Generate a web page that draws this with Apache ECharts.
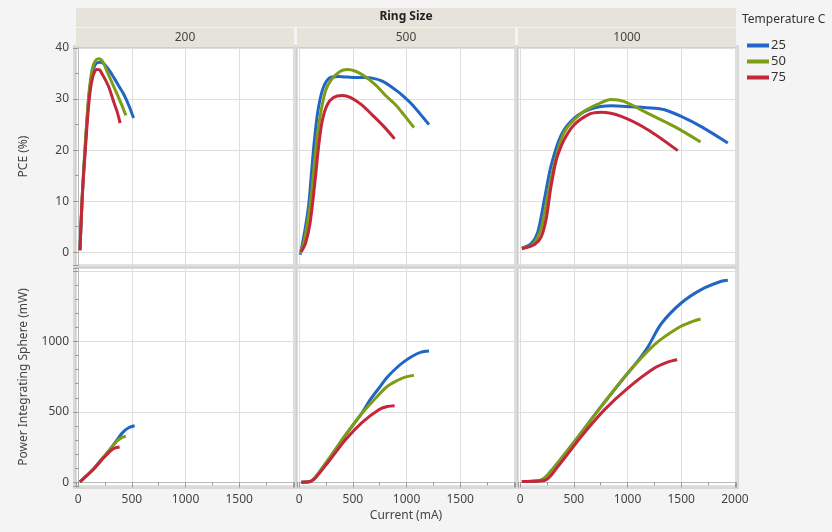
<!DOCTYPE html>
<html style="height: 100%">
<head>
<meta charset="utf-8">
<script src="https://cdn.jsdelivr.net/npm/echarts@6/dist/echarts.min.js"></script>
</head>
<body style="height: 100%; margin: 0; background: #f4f4f4">
<div id="container" style="width: 832px; height: 532px"></div>
<script type="text/javascript">
// facets and groups
var ringSizes = ['200', '500', '1000'];
var temps = ['25', '50', '75'];
var colors = ['#2166c6', '#7d9d17', '#c4263a'];

// PCE (%) vs current (mA), one array per ring size / temperature
var pce200T25 = [[17,0.4],[40,11.5],[70,22],[100,30.5],[130,35],[160,36.8],[200,37.2],[240,36.9],[290,35.6],[335,34.1],[380,32.5],[428,30.8],[475,28.6],[516,26.3]];
var pce200T50 = [[17,0.4],[40,11.8],[70,22.5],[100,31],[130,35.8],[160,37.5],[192,37.9],[230,37.3],[273,35.2],[320,33],[366,30.8],[405,28.9],[444,26.8]];
var pce200T75 = [[17,0.4],[39,11.2],[70,21],[101,29.5],[133,34.1],[173,35.8],[200,35.7],[226,34.8],[260,33.5],[288,32.2],[335,29.2],[365,27.4],[391,25.3]];

var pce500T25 = [[10,-0.5],[57,4.7],[90,9.5],[116,15.8],[140,21.5],[170,27],[213,31.5],[275,34],[368,34.4],[450,34.3],[524,34.2],[600,34.2],[680,34.1],[774,33.5],[898,31.8],[980,30.4],[1054,28.9],[1130,27],[1209,25]];
var pce500T50 = [[10,-0.3],[50,2.5],[90,7.5],[115,11.5],[135,15.8],[160,21],[190,26],[244,31.5],[300,33.8],[380,35.4],[447,35.8],[520,35.5],[600,34.6],[711,32.8],[800,30.8],[898,28.9],[980,26.8],[1069,24.4]];
var pce500T75 = [[20,0.1],[60,1.8],[100,5.5],[130,10.5],[157,15.8],[180,20.5],[213,25.5],[260,28.8],[320,30.3],[400,30.7],[480,30.3],[580,28.9],[680,26.9],[790,24.6],[889,22.2]];

var pce1000T25 = [[16,0.8],[103,1.7],[165,4],[227,10.5],[290,17.1],[383,23],[507,26.3],[662,28.1],[848,28.7],[1034,28.5],[1251,28.2],[1345,27.9],[1500,26.6],[1686,24.6],[1934,21.4]];
var pce1000T50 = [[16,0.8],[118,1.5],[196,4.7],[258,11.2],[320,17.4],[413,23.6],[569,27.2],[723,29],[848,29.9],[972,29.5],[1189,27.2],[1438,24.6],[1680,21.6]];
var pce1000T75 = [[16,0.7],[134,1.5],[196,3],[243,6.6],[290,13.2],[351,19.1],[476,24.3],[630,26.9],[755,27.4],[941,26.6],[1189,24],[1468,19.9]];

// Power Integrating Sphere (mW) vs current (mA)
var pow200T25 = [[17,5],[136,90],[229,173],[300,238],[360,300],[416,355],[470,388],[526,402]];
var pow200T50 = [[17,5],[136,90],[229,173],[293,230],[340,275],[371,300],[410,320],[444,328]];
var pow200T75 = [[17,5],[136,88],[229,168],[270,200],[307,228],[345,245],[386,252]];

var pow500T25 = [[20,2],[104,7],[150,35],[275,165],[431,335],[587,495],[660,585],[742,668],[820,745],[898,806],[980,858],[1054,895],[1130,922],[1209,931]];
var pow500T50 = [[20,2],[104,7],[150,35],[275,165],[431,335],[587,492],[742,622],[820,680],[898,716],[980,745],[1069,759]];
var pow500T75 = [[20,2],[104,7],[150,31],[275,149],[431,303],[587,426],[742,516],[820,538],[889,544]];

var pow1000T25 = [[16,7],[181,14],[258,55],[507,291],[755,539],[1003,776],[1100,865],[1189,960],[1314,1125],[1500,1272],[1686,1367],[1873,1426],[1934,1433]];
var pow1000T50 = [[16,7],[181,14],[258,55],[507,291],[755,539],[1003,776],[1251,977],[1469,1095],[1600,1140],[1680,1159]];
var pow1000T75 = [[16,7],[227,14],[351,113],[569,326],[786,516],[1003,669],[1251,811],[1380,855],[1462,870]];

var pceData = [[pce200T25, pce200T50, pce200T75], [pce500T25, pce500T50, pce500T75], [pce1000T25, pce1000T50, pce1000T75]];
var powData = [[pow200T25, pow200T50, pow200T75], [pow500T25, pow500T50, pow500T75], [pow1000T25, pow1000T50, pow1000T75]];

var dom = document.getElementById('container');
var myChart = echarts.init(dom);

var colLeft = [76, 297, 518];
var colWidth = 218;
var rowTop = [48, 268];
var rowHeight = [217, 218];
var font = "'Noto Sans', sans-serif";

var grids = [], xAxes = [], yAxes = [], series = [];
for (var r = 0; r < 2; r++) {
    for (var c = 0; c < 3; c++) {
        var idx = r * 3 + c;
        grids.push({
            left: colLeft[c], top: rowTop[r], width: colWidth, height: rowHeight[r],
            show: true, backgroundColor: '#fff', borderColor: '#c4c4c4', borderWidth: 1
        });
        xAxes.push({
            gridIndex: idx, type: 'value', min: -20, max: 2010, splitNumber: 4,
            axisLine: { show: r === 1, lineStyle: { color: '#b8b8b8' } },
            axisTick: { show: r === 1, length: 5, lineStyle: { color: '#999' } },
            minorTick: { show: r === 1, splitNumber: 2, length: 3, lineStyle: { color: '#999' } },
            axisLabel: {
                show: r === 1, showMinLabel: false, showMaxLabel: false,
                color: '#444', fontSize: 12, fontFamily: font, margin: 8,
                formatter: (function (cc) {
                    return function (v) { return (v === 2000 && cc < 2) ? '' : String(v); };
                })(c)
            },
            splitLine: { show: true, lineStyle: { color: '#dedede' } },
            name: (r === 1 && c === 1) ? 'Current (mA)' : '',
            nameLocation: 'middle', nameGap: 24,
            nameTextStyle: { color: '#444', fontSize: 12, fontFamily: font }
        });
        yAxes.push({
            gridIndex: idx, type: 'value',
            min: r === 0 ? -2.5 : -25, max: r === 0 ? 40 : 1520,
            splitNumber: r === 0 ? 4 : 3,
            axisLine: { show: c === 0, lineStyle: { color: '#b8b8b8' } },
            axisTick: { show: c === 0, length: 5, lineStyle: { color: '#999' } },
            minorTick: { show: c === 0, splitNumber: r === 0 ? 2 : 5, length: 3, lineStyle: { color: '#999' } },
            axisLabel: {
                show: c === 0, showMinLabel: false, showMaxLabel: r === 0,
                color: '#444', fontSize: 12, fontFamily: font, margin: 7,
                formatter: function (v) { return v === 1500 ? '' : String(v); }
            },
            splitLine: { show: true, lineStyle: { color: '#dedede' } },
            name: c === 0 ? (r === 0 ? 'PCE (%)' : 'Power Integrating Sphere (mW)') : '',
            nameLocation: 'middle', nameGap: 46,
            nameTextStyle: { color: '#444', fontSize: 12, fontFamily: font }
        });
        for (var t = 0; t < 3; t++) {
            series.push({
                type: 'line', name: temps[t],
                xAxisIndex: idx, yAxisIndex: idx,
                data: r === 0 ? pceData[c][t] : powData[c][t],
                showSymbol: false, smooth: 0.3,
                lineStyle: { width: 3, color: colors[t] },
                itemStyle: { color: colors[t] }
            });
        }
    }
}

var graphics = [
    { type: 'rect', shape: { x: 73, y: 45, width: 666, height: 444 }, style: { fill: '#d9d9d9' }, z: -1 },
    { type: 'rect', shape: { x: 76, y: 8, width: 660, height: 19 }, style: { fill: '#e6e4da' } },
    { type: 'text', x: 406, y: 17, style: { text: 'Ring Size', font: "bold 12px 'Noto Sans', sans-serif", fill: '#222', textAlign: 'center', textVerticalAlign: 'middle' } },
    { type: 'text', x: 742, y: 20, style: { text: 'Temperature C', font: "12px 'Noto Sans', sans-serif", fill: '#333', textAlign: 'left', textVerticalAlign: 'middle' } }
];
for (var k = 0; k < 3; k++) {
    graphics.push({ type: 'rect', shape: { x: colLeft[k], y: 28, width: colWidth, height: 19 }, style: { fill: '#e6e4da' } });
    graphics.push({ type: 'text', x: colLeft[k] + colWidth / 2, y: 37.5, style: { text: ringSizes[k], font: "12px 'Noto Sans', sans-serif", fill: '#444', textAlign: 'center', textVerticalAlign: 'middle' } });
}

option = {
    animation: false,
    backgroundColor: '#f4f4f4',
    grid: grids,
    xAxis: xAxes,
    yAxis: yAxes,
    series: series,
    graphic: graphics,
    legend: {
        data: temps, orient: 'vertical', left: 742, top: 34,
        icon: 'rect', itemWidth: 22, itemHeight: 4, itemGap: 3,
        textStyle: { color: '#333', fontSize: 13, fontFamily: font, padding: [0, 0, 0, -3] }
    }
};

if (option && typeof option === 'object') {
    myChart.setOption(option, true);
}
</script>
</body>
</html>
